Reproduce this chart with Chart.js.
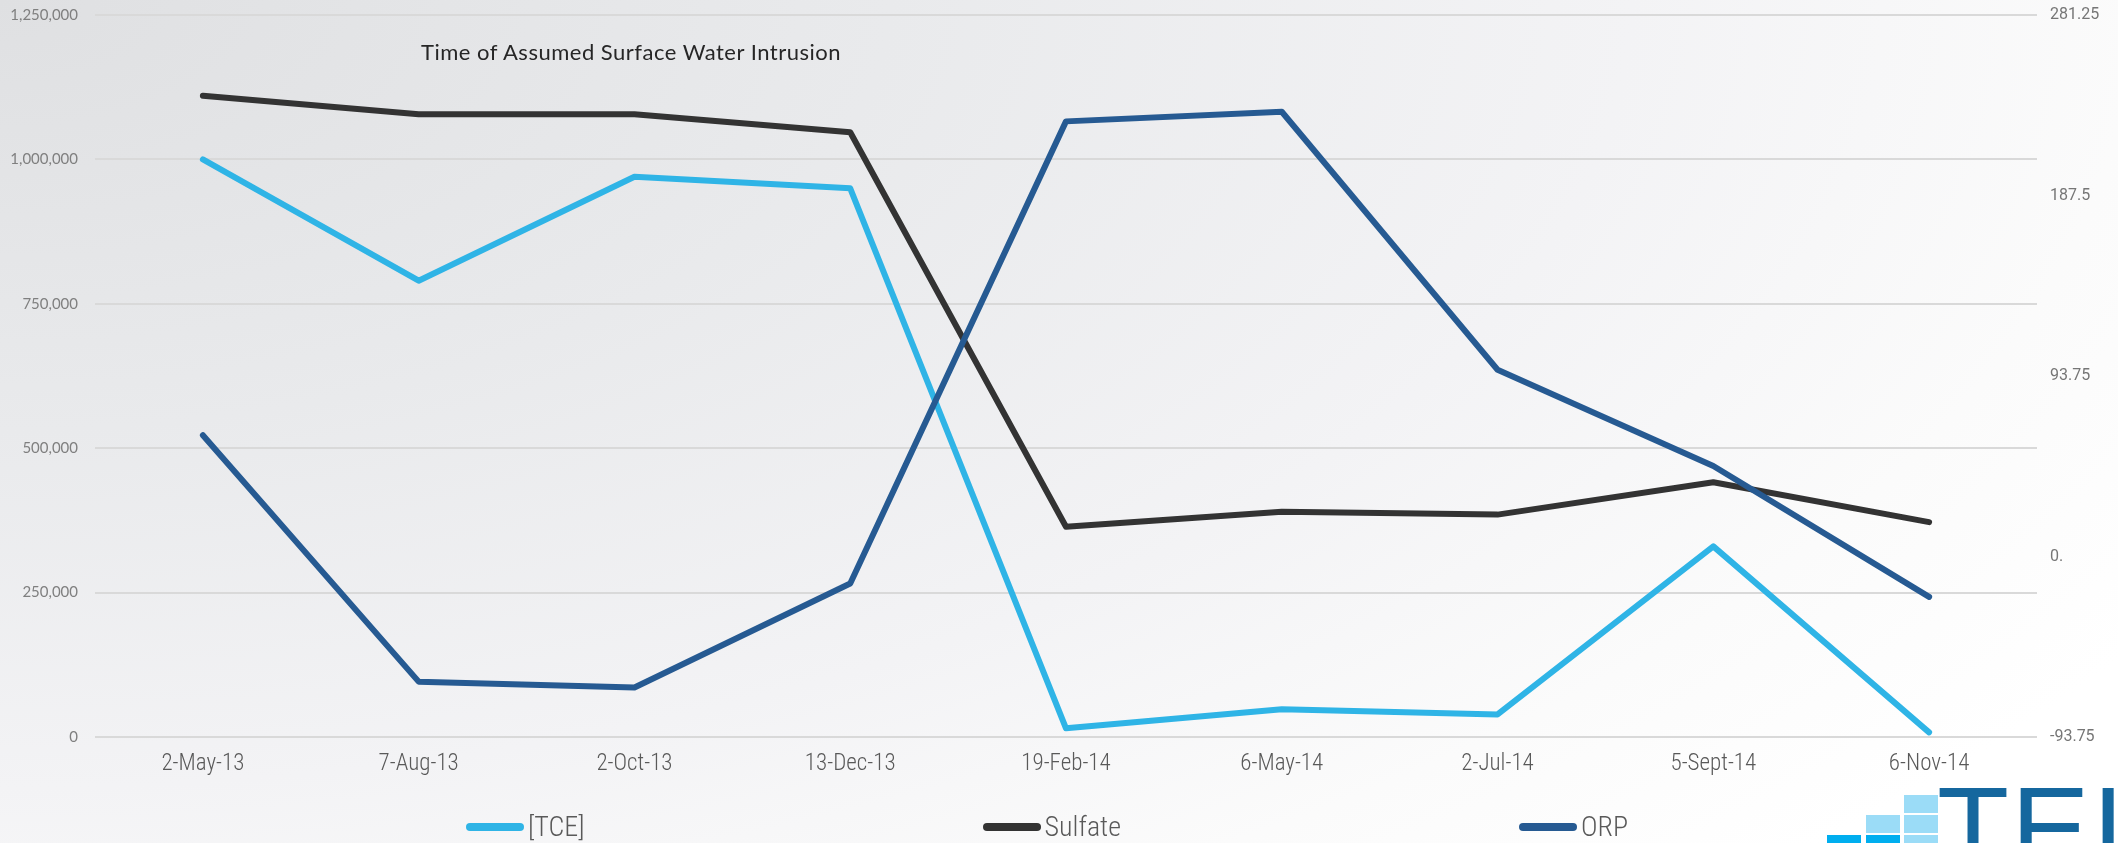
<!DOCTYPE html>
<html>
<head>
<meta charset="utf-8">
<title>TCE, Sulfate and ORP</title>
<script src="https://cdn.jsdelivr.net/npm/chart.js@4.4.1/dist/chart.umd.min.js"></script>
<style>
  html, body { margin: 0; padding: 0; width: 2118px; height: 843px; overflow: hidden; }
  body {
    position: relative;
    background: radial-gradient(ellipse 140% 170% at 0% 0%, #dfe0e2 0%, #e9eaec 30%, #f3f3f5 55%, #fbfbfb 72%, #ffffff 85%);
  }
  #chartBox { position: absolute; left: 0; top: 0; width: 2118px; height: 843px; }
  .note {
    position: absolute; left: 421px; top: 38px;
    font-family: Lato, "DejaVu Sans", sans-serif; font-size: 22px; color: #262626;
    white-space: nowrap; letter-spacing: 0.5px;
  }
  #legend {
    position: absolute; left: 466px; top: 810px;
    display: flex; gap: 398px; align-items: center;
    font-family: Roboto, sans-serif; font-stretch: condensed; font-weight: 300;
    font-size: 28px; color: #595959;
  }
  #legend .item { display: flex; align-items: center; }
  #legend .swatch { width: 58px; height: 8px; border-radius: 4px; margin-right: 4px; }
  .brick { position: absolute; width: 34px; height: 18px; }
  .logoText {
    position: absolute; left: 1937px; top: 770px;
    font-family: "Liberation Sans", Arial, sans-serif; font-size: 118px; line-height: 118px;
    color: #15679e; letter-spacing: 2px; white-space: nowrap;
  }
</style>
</head>
<body>
<div id="chartBox"><canvas id="chemChart" width="2118" height="843"></canvas></div>
<div class="note">Time of Assumed Surface Water Intrusion</div>
<div id="legend"></div>

<!-- logo in the corner -->
<div class="brick" style="left:1827px;top:835px;background:#00aeef"></div>
<div class="brick" style="left:1866px;top:815px;background:#9bdcf7"></div>
<div class="brick" style="left:1866px;top:835px;background:#00aeef"></div>
<div class="brick" style="left:1904px;top:795px;background:#9bdcf7"></div>
<div class="brick" style="left:1904px;top:815px;background:#9bdcf7"></div>
<div class="brick" style="left:1904px;top:835px;background:#9bdcf7"></div>
<div class="logoText">TEI</div>

<script>
// sampling dates
const sampleDates = ['2-May-13', '7-Aug-13', '2-Oct-13', '13-Dec-13', '19-Feb-14', '6-May-14', '2-Jul-14', '5-Sept-14', '6-Nov-14'];

// concentrations (left axis)
const tce = [1000000, 790000, 970000, 950000, 15000, 48000, 39000, 330000, 8000];
const sulfate = [1110000, 1078000, 1078000, 1047000, 364000, 390000, 385000, 441000, 372000];

// ORP, mV (right axis)
const orp = [63, -65, -68, -14, 226, 231, 97, 47, -21];

// axis ticks
const leftTicks = [0, 250000, 500000, 750000, 1000000, 1250000];
const rightTicks = [-93.75, 0, 93.75, 187.5, 281.25];

const colors = { tce: '#2fb4e6', sulfate: '#333333', orp: '#265a92' };

function line(label, data, color, axis, order) {
  return {
    label: label,
    data: data,
    yAxisID: axis,
    borderColor: color,
    backgroundColor: color,
    borderWidth: 6,
    borderCapStyle: 'round',
    borderJoinStyle: 'round',
    pointRadius: 0,
    tension: 0,
    order: order
  };
}

// fixed axis box, no extra room above/below for the tick labels
function fixWidth(w) {
  return s => { s.width = w; s.paddingTop = 0; s.paddingBottom = 0; };
}

const ctx = document.getElementById('chemChart').getContext('2d');
const chart = new Chart(ctx, {
  type: 'line',
  data: {
    labels: sampleDates,
    datasets: [
      line('[TCE]', tce, colors.tce, 'y', 3),
      line('Sulfate', sulfate, colors.sulfate, 'y', 2),
      line('ORP', orp, colors.orp, 'y1', 1)
    ]
  },
  options: {
    responsive: false,
    animation: false,
    layout: { padding: { top: 15, bottom: 0, left: 0, right: 0 } },
    plugins: {
      legend: { display: false },
      tooltip: { enabled: false }
    },
    scales: {
      x: {
        offset: true,
        grid: { display: false },
        border: { display: false },
        ticks: {
          color: '#595959',
          padding: 5,
          maxRotation: 0,
          autoSkip: false,
          // weight string carries the condensed stretch into the canvas font
          font: { family: 'Roboto, sans-serif', size: 23, weight: '300 condensed' }
        },
        afterFit: s => { s.height = 106; }
      },
      y: {
        position: 'left',
        min: leftTicks[0],
        max: leftTicks[leftTicks.length - 1],
        afterBuildTicks: s => { s.ticks = leftTicks.map(v => ({ value: v })); },
        grid: { color: '#d9d9d9', lineWidth: 2, drawTicks: false },
        border: { display: false },
        ticks: {
          color: '#7f7f7f',
          padding: 17,
          font: { family: 'Lato, "DejaVu Sans", sans-serif', size: 15 },
          callback: v => v.toLocaleString('en-US')
        },
        afterFit: fixWidth(95)
      },
      y1: {
        position: 'right',
        min: rightTicks[0],
        max: rightTicks[rightTicks.length - 1],
        afterBuildTicks: s => { s.ticks = rightTicks.map(v => ({ value: v })); },
        grid: { display: false, drawTicks: false },
        border: { display: false },
        ticks: {
          color: '#767676',
          padding: 13,
          font: { family: 'Roboto, sans-serif', size: 16 },
          callback: v => (v === 0 ? '0.' : String(v))
        },
        afterFit: fixWidth(81)
      }
    }
  }
});

// legend built from the datasets
const legendBox = document.getElementById('legend');
chart.data.datasets.forEach(ds => {
  const item = document.createElement('div');
  item.className = 'item';
  const sw = document.createElement('span');
  sw.className = 'swatch';
  sw.style.background = ds.borderColor;
  const txt = document.createElement('span');
  txt.textContent = ds.label;
  item.appendChild(sw);
  item.appendChild(txt);
  legendBox.appendChild(item);
});
</script>
</body>
</html>
